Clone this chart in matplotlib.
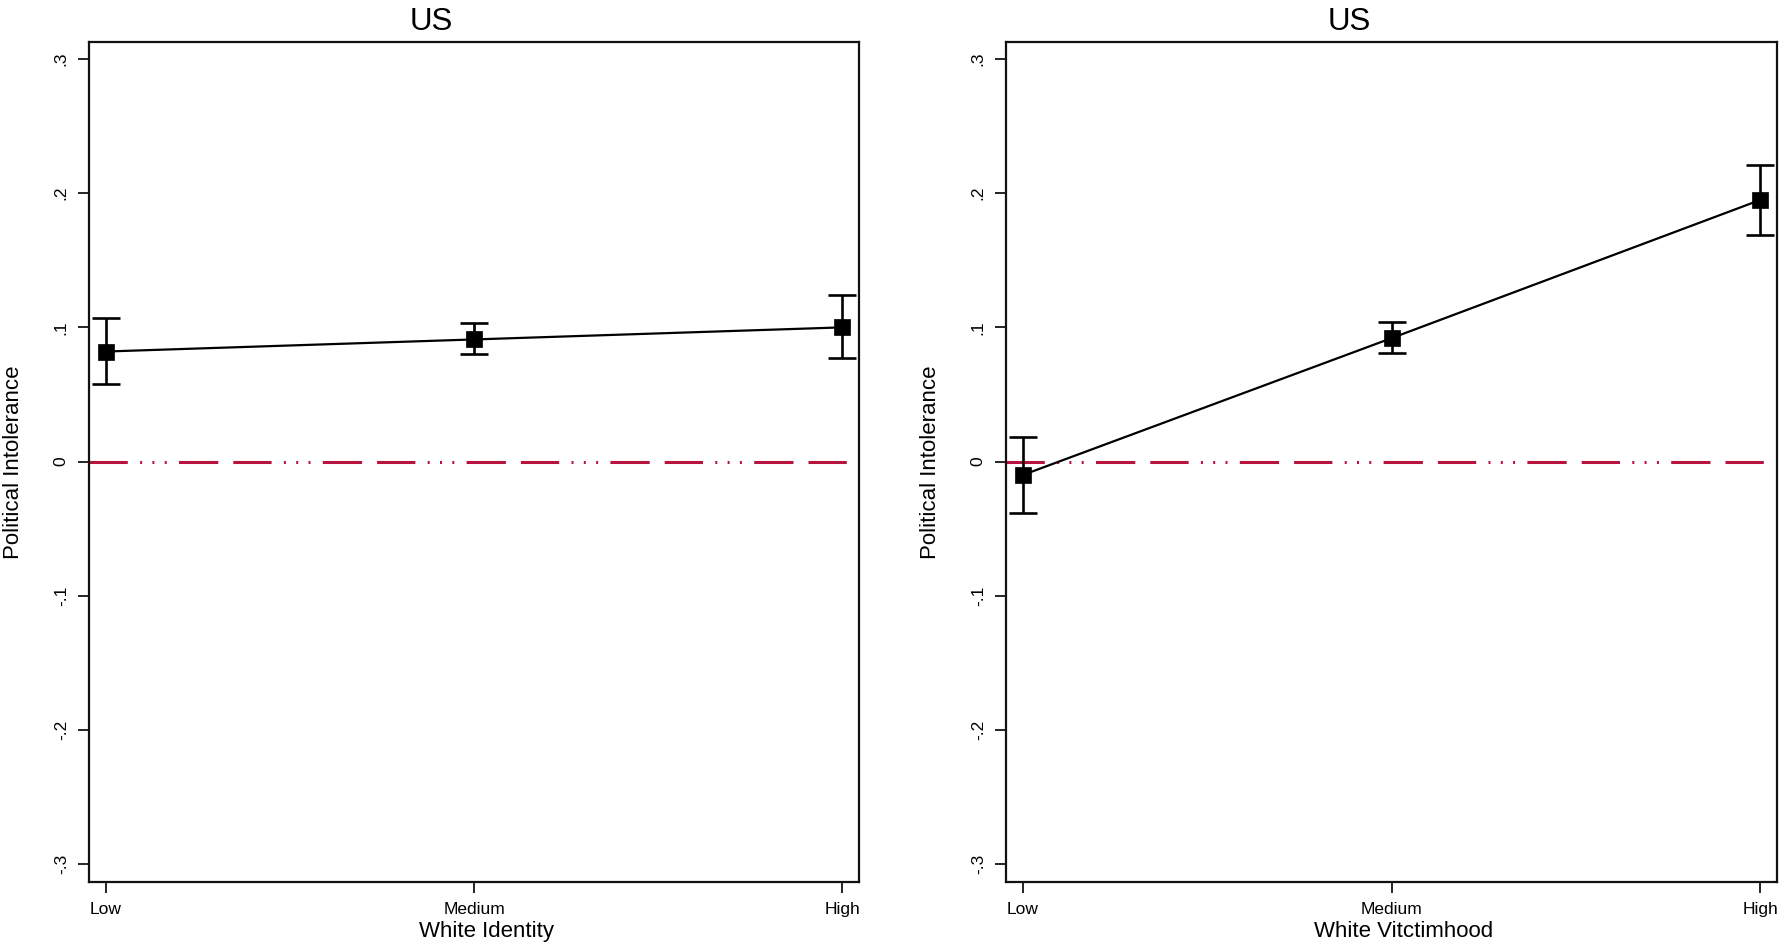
import matplotlib
matplotlib.use("Agg")
import matplotlib.pyplot as plt

plt.rcParams['font.family'] = ['Liberation Sans', 'DejaVu Sans']
plt.rcParams['lines.scale_dashes'] = False

# ---- data ----
levels = ["Low", "Medium", "High"]
titles = ["US", "US"]
xlabels = ["White Identity", "White Vitctimhood"]
ylabel = "Political Intolerance"

identity_est = [0.082, 0.091, 0.100]
identity_lo = [0.058, 0.080, 0.077]
identity_hi = [0.107, 0.103, 0.124]

victim_est = [-0.010, 0.092, 0.195]
victim_lo = [-0.038, 0.081, 0.169]
victim_hi = [0.018, 0.104, 0.221]

yticks = [-0.3, -0.2, -0.1, 0.0, 0.1, 0.2, 0.3]
yticklabels = ["-.3", "-.2", "-.1", "0", ".1", ".2", ".3"]

panels = [
    (identity_est, identity_lo, identity_hi),
    (victim_est, victim_lo, victim_hi),
]

W, H = 1784, 948
fig = plt.figure(figsize=(W / 100, H / 100), dpi=100)
fig.patch.set_facecolor("white")

ax_rects = [
    [89 / W, 1 - 882 / H, 770 / W, 840 / H],
    [1006 / W, 1 - 882 / H, 771 / W, 840 / H],
]

red = "#B8123F"
px = 0.72  # points per pixel at 100 dpi
dash = (0, (38.3 * px, 12.3 * px, 2 * px, 10.3 * px, 2 * px, 10.3 * px,
            2 * px, 12.3 * px, 39.3 * px, 15 * px))

for i, (est, lo, hi) in enumerate(panels):
    ax = fig.add_axes(ax_rects[i])
    x = list(range(len(levels)))
    ax.axhline(0, color=red, lw=2.2, linestyle=dash, zorder=1)
    yerr_lo = [e - l for e, l in zip(est, lo)]
    yerr_hi = [h - e for e, h in zip(est, hi)]
    ax.errorbar(x, est, yerr=[yerr_lo, yerr_hi], fmt='none', ecolor='black',
                elinewidth=1.9, capsize=10, capthick=1.9, zorder=2)
    ax.plot(x, est, color='black', lw=1.6, zorder=3)
    ax.plot(x, est, linestyle='none', marker='s', markersize=12,
            markerfacecolor='black', markeredgecolor='black', mew=0.5, zorder=4)

    ax.set_xlim(-0.046, 2.045)
    ax.set_ylim(-0.3134, 0.3127)
    ax.set_xticks(x)
    ax.set_xticklabels(levels, fontsize=12.5)
    ax.set_yticks(yticks)
    ax.set_yticklabels(yticklabels, fontsize=12.5, rotation=90, va='center')
    ax.tick_params(axis='both', length=8, width=1.2, color='black', pad=6.5)
    for sp in ax.spines.values():
        sp.set_linewidth(1.6)
        sp.set_color('#111111')

    ax.set_title(titles[i], fontsize=22.5, x=0.445, pad=9)
    ax.set_xlabel(xlabels[i], fontsize=16)
    ax.xaxis.set_label_coords(0.516, -0.046)
    ax.set_ylabel(ylabel, fontsize=16)
    ax.yaxis.set_label_coords(-0.0845, 0.5)

fig.savefig("out.png", dpi=100, facecolor="white")
